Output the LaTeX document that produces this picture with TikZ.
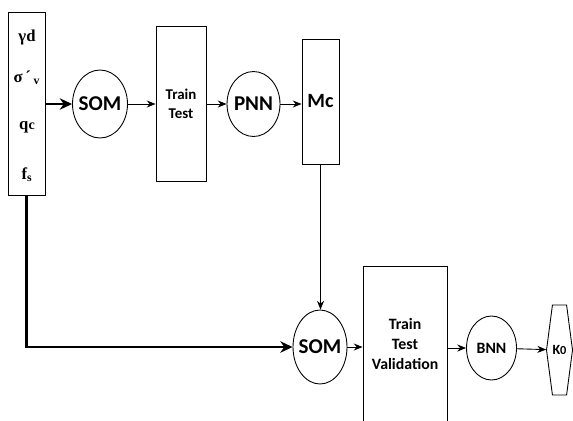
\documentclass[tikz,border=0pt]{standalone}
\usepackage{fontspec}
\setmainfont{Liberation Serif}
\setsansfont{Carlito}
\usetikzlibrary{shapes.geometric,shapes.symbols,arrows.meta}

\begin{document}
\begin{tikzpicture}[x=0.02cm,y=-0.02cm]
  \tikzset{BoxStyle/.style = {
  draw,
  rectangle,
  line width = 0.5pt,
  inner sep = 0pt,
  align = center,
  font = \sffamily\bfseries\fontsize{8.5}{11}\selectfont},
  EllStyle/.style = {
  draw,
  ellipse,
  line width = 0.5pt,
  inner sep = 0pt},
  InStyle/.style = {font = \rmfamily\bfseries\fontsize{9.5}{10}\selectfont},
  ThinArrow/.style = {-{Stealth[length=5pt,width=4pt]}, line width = 0.5pt},
  ThickArrow/.style = {-{Stealth[length=7pt,width=6.5pt]}, line width = 1.6pt},
  every label/.style = {font = \sffamily\bfseries\fontsize{12}{12}\selectfont}}
  \clip (0,0) rectangle (573,420);
  \node[BoxStyle, minimum width=0.74cm, minimum height=3.66cm] (inp) at (26.5,103.5) {};
  \node[InStyle] (gd) at (27,37) {γd};
  \node[InStyle] (sv) at (27,78) {σ\,´\,\textsubscript{v}};
  \node[InStyle] (qc) at (27,127) {q{\footnotesize c}};
  \node[InStyle] (fs) at (27,175) {f\textsubscript{s}};
  \node[EllStyle, minimum width=1.1cm, minimum height=1.36cm, label=center:SOM] (som1) at (100,104) {};
  \node[BoxStyle, minimum width=1.0cm, minimum height=3.1cm] (tt1) at (181,104) {Train\\Test};
  \node[EllStyle, minimum width=1.06cm, minimum height=1.3cm, label=center:PNN] (pnn) at (253.5,104) {};
  \node[BoxStyle, minimum width=0.74cm, minimum height=2.5cm, font=\sffamily\bfseries\fontsize{11.5}{12}\selectfont] (mc) at (320.5,101.5) {Mc};
  \node[EllStyle, minimum width=1.08cm, minimum height=1.48cm, label=center:SOM] (som2) at (320,347) {};
  \node[BoxStyle, minimum width=1.68cm, minimum height=3.12cm, font=\sffamily\bfseries\fontsize{9}{11.5}\selectfont] (tt2) at (405,344) {Train\\Test\\Validation};
  \node[EllStyle, minimum width=1.0cm, minimum height=1.28cm, label={[font=\sffamily\bfseries\fontsize{9}{9}\selectfont]center:BNN}] (bnn) at (491.5,348) {};
  \node[draw, signal, signal to=west and east, signal pointer angle=165, line width=0.5pt, inner sep=0pt,
    minimum width=0.52cm, minimum height=1.8cm, font=\sffamily\bfseries\fontsize{8}{8}\selectfont] (ko) at (559.5,350) {K{\scriptsize 0}};
  \draw[ThickArrow] (inp.east |- som1) -- (som1);
  \draw[ThinArrow] (som1) -- (tt1);
  \draw[ThinArrow] (tt1) -- (pnn);
  \draw[ThinArrow] (pnn.east) -- (pnn.east -| mc.west);
  \draw[ThinArrow] (mc.south) -- (mc.south |- som2.north);
  \draw[ThickArrow] (inp.south) |- (som2.west);
  \draw[ThinArrow] (som2) -- (som2 -| tt2.west);
  \draw[ThinArrow] (tt2.east |- bnn) -- (bnn);
  \draw[ThinArrow] (bnn) -- (ko);
\end{tikzpicture}
\end{document}
